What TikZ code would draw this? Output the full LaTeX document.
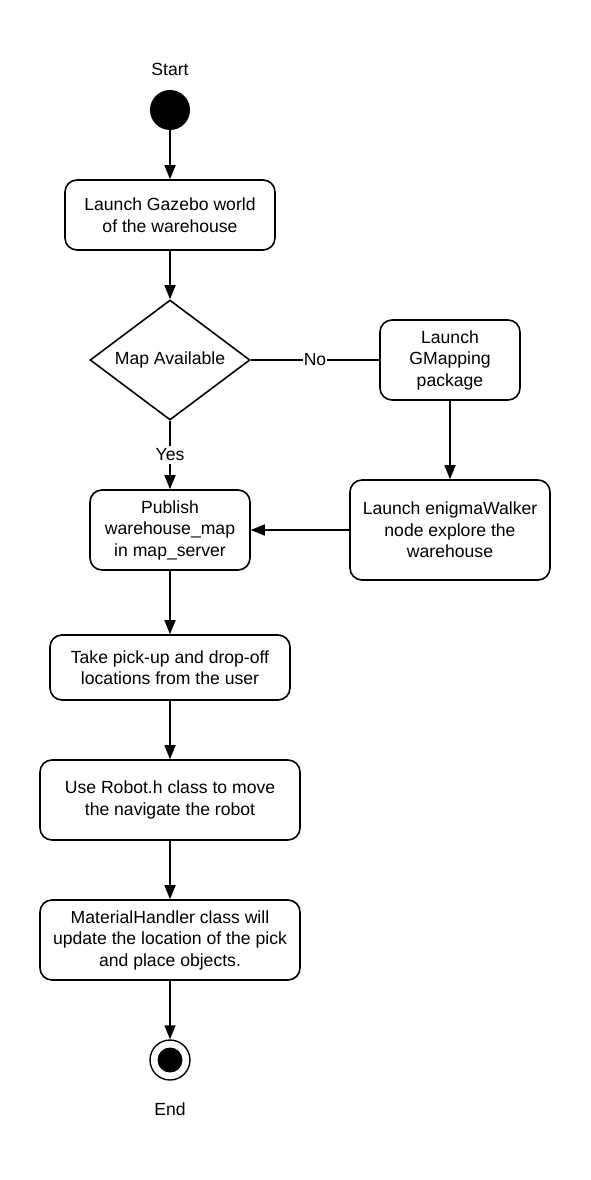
\documentclass[tikz,border=0pt]{standalone}
\usepackage{fontspec}
\setmainfont{Liberation Sans}
\usetikzlibrary{arrows.meta,shapes.geometric}
\begin{document}
\begin{tikzpicture}[x=1pt,y=-1pt,
  every node/.style={font=\fontsize{17.6}{21.5}\selectfont},
  box/.style={draw,line width=1.6pt,rounded corners=12pt,align=center,inner sep=0pt},
  decision/.style={draw,line width=1.6pt,diamond,aspect=1.333,inner sep=0pt,minimum width=160pt,minimum height=120pt},
  flow/.style={line width=1.6pt,-{Triangle[length=14pt,width=11pt]}},
  plain/.style={line width=1.6pt},
  lbl/.style={fill=white,inner xsep=1pt,inner ysep=3pt}]
\useasboundingbox (0,0) rectangle (590,1180);
\node (startlbl) at (170,69) {Start};
\node[circle,fill=black,minimum size=40pt,inner sep=0pt] (start) at (170,110) {};
\node[box,minimum width=210pt,minimum height=70pt] (gazebo) at (170,215) {Launch Gazebo world\\of the warehouse};
\node[decision] (map) at (170,360) {Map Available};
\node[box,minimum width=140pt,minimum height=80pt] (gmap) at (450,360) {Launch\\GMapping\\package};
\node[box,minimum width=200pt,minimum height=100pt] (walker) at (450,530) {Launch enigmaWalker\\node explore the\\warehouse};
\node[box,minimum width=160pt,minimum height=80pt] (publish) at (170,530) {Publish\\warehouse\_map\\in map\_server};
\node[box,minimum width=240pt,minimum height=65pt] (take) at (170,667.5) {Take pick-up and drop-off\\locations from the user};
\node[box,minimum width=260pt,minimum height=80pt] (robot) at (170,800) {Use Robot.h class to move\\the navigate the robot};
\node[box,minimum width=260pt,minimum height=80pt] (handler) at (170,940) {MaterialHandler class will\\update the location of the pick\\and place objects.};
\node[circle,draw,line width=1.4pt,minimum size=40pt,inner sep=0pt] (end) at (170,1060) {};
\node[circle,fill=black,minimum size=25pt,inner sep=0pt] (endin) at (end) {};
\node (endlbl) at (170,1109) {End};
\draw[flow] (start) -- (gazebo);
\draw[flow] (gazebo) -- (map.north);
\draw[plain] (map.east) -- node[lbl,midway] {No} (gmap.west);
\draw[flow] (map.south) -- node[lbl,midway] {Yes} (publish.north);
\draw[flow] (gmap) -- (walker);
\draw[flow] (walker) -- (publish);
\draw[flow] (publish) -- (take);
\draw[flow] (take) -- (robot);
\draw[flow] (robot) -- (handler);
\draw[flow] (handler) -- (end);
\end{tikzpicture}
\end{document}
